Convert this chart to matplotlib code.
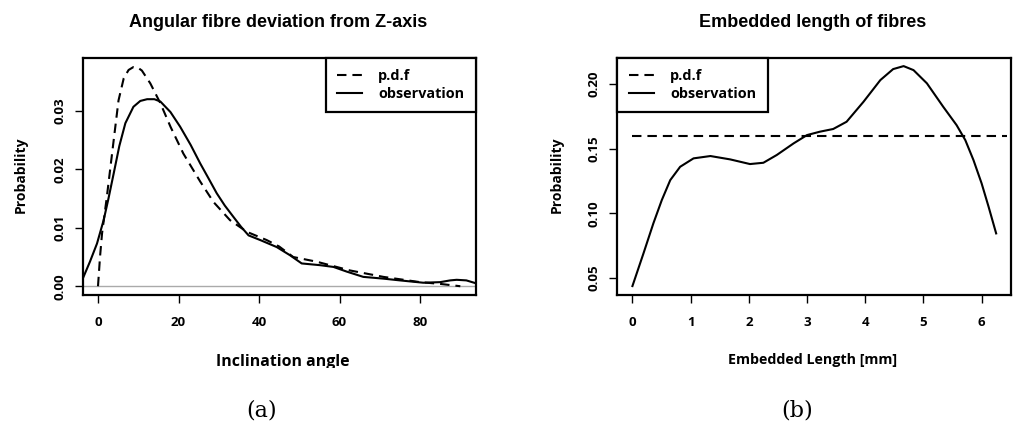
import matplotlib
matplotlib.use("Agg")
import matplotlib.pyplot as plt
from matplotlib.transforms import Bbox

# Panel (a): angular deviation of fibres from the Z axis
angle_obs_x = [-3.6, -2.0, -0.25, 1.4, 2.6, 3.9, 5.3, 6.8, 8.8, 10.5, 12.2, 14.0,
               15.5, 18.0, 20.4, 23.0, 25.4, 27.5, 29.5, 31.5, 33.6, 35.5, 37.4,
               40.3, 44.4, 47.7, 50.6, 55.2, 58.5, 61.8, 65.9, 70.9, 75.0, 80.8,
               85.0, 87.5, 89.1, 91.5, 93.9]
angle_obs_y = [0.0016, 0.0042, 0.0073, 0.0113, 0.0150, 0.0193, 0.0240, 0.0279,
               0.0307, 0.0317, 0.0320, 0.0320, 0.0316, 0.0298, 0.0273, 0.0242,
               0.0210, 0.0184, 0.0159, 0.0138, 0.0119, 0.0102, 0.0087, 0.0079,
               0.0067, 0.0053, 0.0039, 0.0036, 0.0033, 0.0025, 0.0016, 0.0013,
               0.0010, 0.0006, 0.0007, 0.0010, 0.0011, 0.0010, 0.0005]

angle_pdf_x = [0.0, 0.5, 1.0, 2.2, 3.9, 5.1, 6.4, 7.6, 8.8, 9.9, 10.9, 13.0,
               15.5, 18.0, 21.2, 25.4, 28.7, 32.8, 37.0, 41.9, 45.0, 48.5,
               54.3, 62.6, 70.9, 80.0, 85.0, 90.0]
angle_pdf_y = [0.0, 0.0050, 0.0090, 0.0153, 0.0250, 0.0318, 0.0356, 0.0370,
               0.0375, 0.0374, 0.0369, 0.0347, 0.0313, 0.0273, 0.0227, 0.0179,
               0.0144, 0.0113, 0.0093, 0.0079, 0.0068, 0.0050, 0.0042, 0.0027,
               0.0016, 0.0007, 0.0004, 0.0]

angle_xticks = [0, 20, 40, 60, 80]
angle_yticks = [0.00, 0.01, 0.02, 0.03]
angle_yticklabels = ["0.00", "0.01", "0.02", "0.03"]

# Panel (b): embedded length of fibres
length_obs_x = [0.0, 0.19, 0.36, 0.505, 0.65, 0.82, 1.05, 1.34, 1.68, 2.02,
                2.25, 2.48, 2.77, 3.0, 3.22, 3.45, 3.68, 3.97, 4.26, 4.48,
                4.66, 4.83, 5.06, 5.34, 5.57, 5.72, 5.86, 6.0, 6.12, 6.25]
length_obs_y = [0.0438, 0.0691, 0.0923, 0.1103, 0.1257, 0.1360, 0.1425, 0.1443,
                0.1417, 0.1381, 0.1391, 0.1451, 0.1541, 0.1605, 0.1631, 0.1652,
                0.1708, 0.1862, 0.2030, 0.2115, 0.2138, 0.2107, 0.2005, 0.1824,
                0.1682, 0.1566, 0.1412, 0.1232, 0.1051, 0.0845]

length_pdf_x = [0.0, 6.43]
length_pdf_y = [0.16, 0.16]

length_xticks = [0, 1, 2, 3, 4, 5, 6]
length_yticks = [0.05, 0.10, 0.15, 0.20]
length_yticklabels = ["0.05", "0.10", "0.15", "0.20"]

plt.rcParams["lines.scale_dashes"] = False
DASH = (6.8, 4.3)
LW = 1.5
SANS = "Open Sans"

fig = plt.figure(figsize=(10.14, 4.23), dpi=100)
W, H = 1014.0, 423.0


def px_axes(x0, y0, x1, y1):
    return fig.add_axes([x0 / W, 1 - y1 / H, (x1 - x0) / W, (y1 - y0) / H])


def style_axes(ax, xticks, yticks, yticklabels):
    for s in ax.spines.values():
        s.set_linewidth(1.6)
    ax.set_xticks(xticks)
    ax.set_xticklabels([str(t) for t in xticks], fontsize=9.5,
                       fontweight="bold", family=SANS)
    ax.set_yticks(yticks)
    ax.set_yticklabels(yticklabels, fontsize=9.5, fontweight="bold",
                       family=SANS, rotation=90, va="center")
    ax.tick_params(direction="out", length=6, width=1.0)
    ax.tick_params(axis="x", pad=9)
    ax.tick_params(axis="y", pad=6)


def add_legend(ax, loc):
    leg = ax.legend(loc=loc, borderaxespad=0, fancybox=False,
                    edgecolor="black", framealpha=1, handlelength=1.75,
                    handletextpad=1.1, borderpad=0.8, labelspacing=0.25,
                    prop={"family": SANS, "weight": "bold", "size": 10.4})
    leg.get_frame().set_linewidth(1.6)


# ---- panel (a)
ax1 = px_axes(82.7, 57.7, 476.0, 295.0)
ax1.axhline(0, color="#aaaaaa", lw=1.0, zorder=1)
ax1.plot(angle_pdf_x, angle_pdf_y, color="black", lw=LW, ls=(0, DASH),
         label="p.d.f")
ax1.plot(angle_obs_x, angle_obs_y, color="black", lw=LW, label="observation")
ax1.set_xlim(-3.8, 93.9)
ax1.set_ylim(-0.0015, 0.0391)
style_axes(ax1, angle_xticks, angle_yticks, angle_yticklabels)
add_legend(ax1, "upper right")

# ---- panel (b)
ax2 = px_axes(617.3, 57.7, 1010.7, 295.0)
ax2.plot(length_pdf_x, length_pdf_y, color="black", lw=LW, ls=(0, DASH),
         label="p.d.f")
ax2.plot(length_obs_x, length_obs_y, color="black", lw=LW, label="observation")
ax2.set_xlim(-0.26, 6.5)
ax2.set_ylim(0.0369, 0.2203)
style_axes(ax2, length_xticks, length_yticks, length_yticklabels)
add_legend(ax2, "upper left")

# ---- titles and axis labels
fig.text(278 / W, 1 - 22.7 / H, "Angular fibre deviation from Z-axis",
         ha="center", va="center", fontsize=13, fontweight="bold",
         family="Liberation Sans")
fig.text(813 / W, 1 - 22.7 / H, "Embedded length of fibres",
         ha="center", va="center", fontsize=13, fontweight="bold",
         family="Liberation Sans")

fig.text(21 / W, 1 - 175 / H, "Probability", rotation=90, ha="center",
         va="center", fontsize=10, fontweight="bold", family=SANS)
fig.text(557 / W, 1 - 175 / H, "Probability", rotation=90, ha="center",
         va="center", fontsize=10, fontweight="bold", family=SANS)

xl = fig.text(283 / W, 1 - 362 / H, "Inclination angle", ha="center",
              va="center", fontsize=11.4, fontweight="bold", family=SANS)
xl.set_clip_box(Bbox([[0, 1 - 367.5 / H], [1, 1]]).transformed(fig.transFigure))
xl.set_clip_on(True)
fig.text(813 / W, 1 - 360 / H, "Embedded Length [mm]", ha="center",
         va="center", fontsize=10.3, fontweight="bold", family=SANS)

fig.text(261.7 / W, 1 - 410 / H, "(a)", ha="center", va="center",
         fontsize=16, family="DejaVu Serif")
fig.text(796.7 / W, 1 - 410 / H, "(b)", ha="center", va="center",
         fontsize=16, family="DejaVu Serif")

fig.savefig("out.png", dpi=100)
